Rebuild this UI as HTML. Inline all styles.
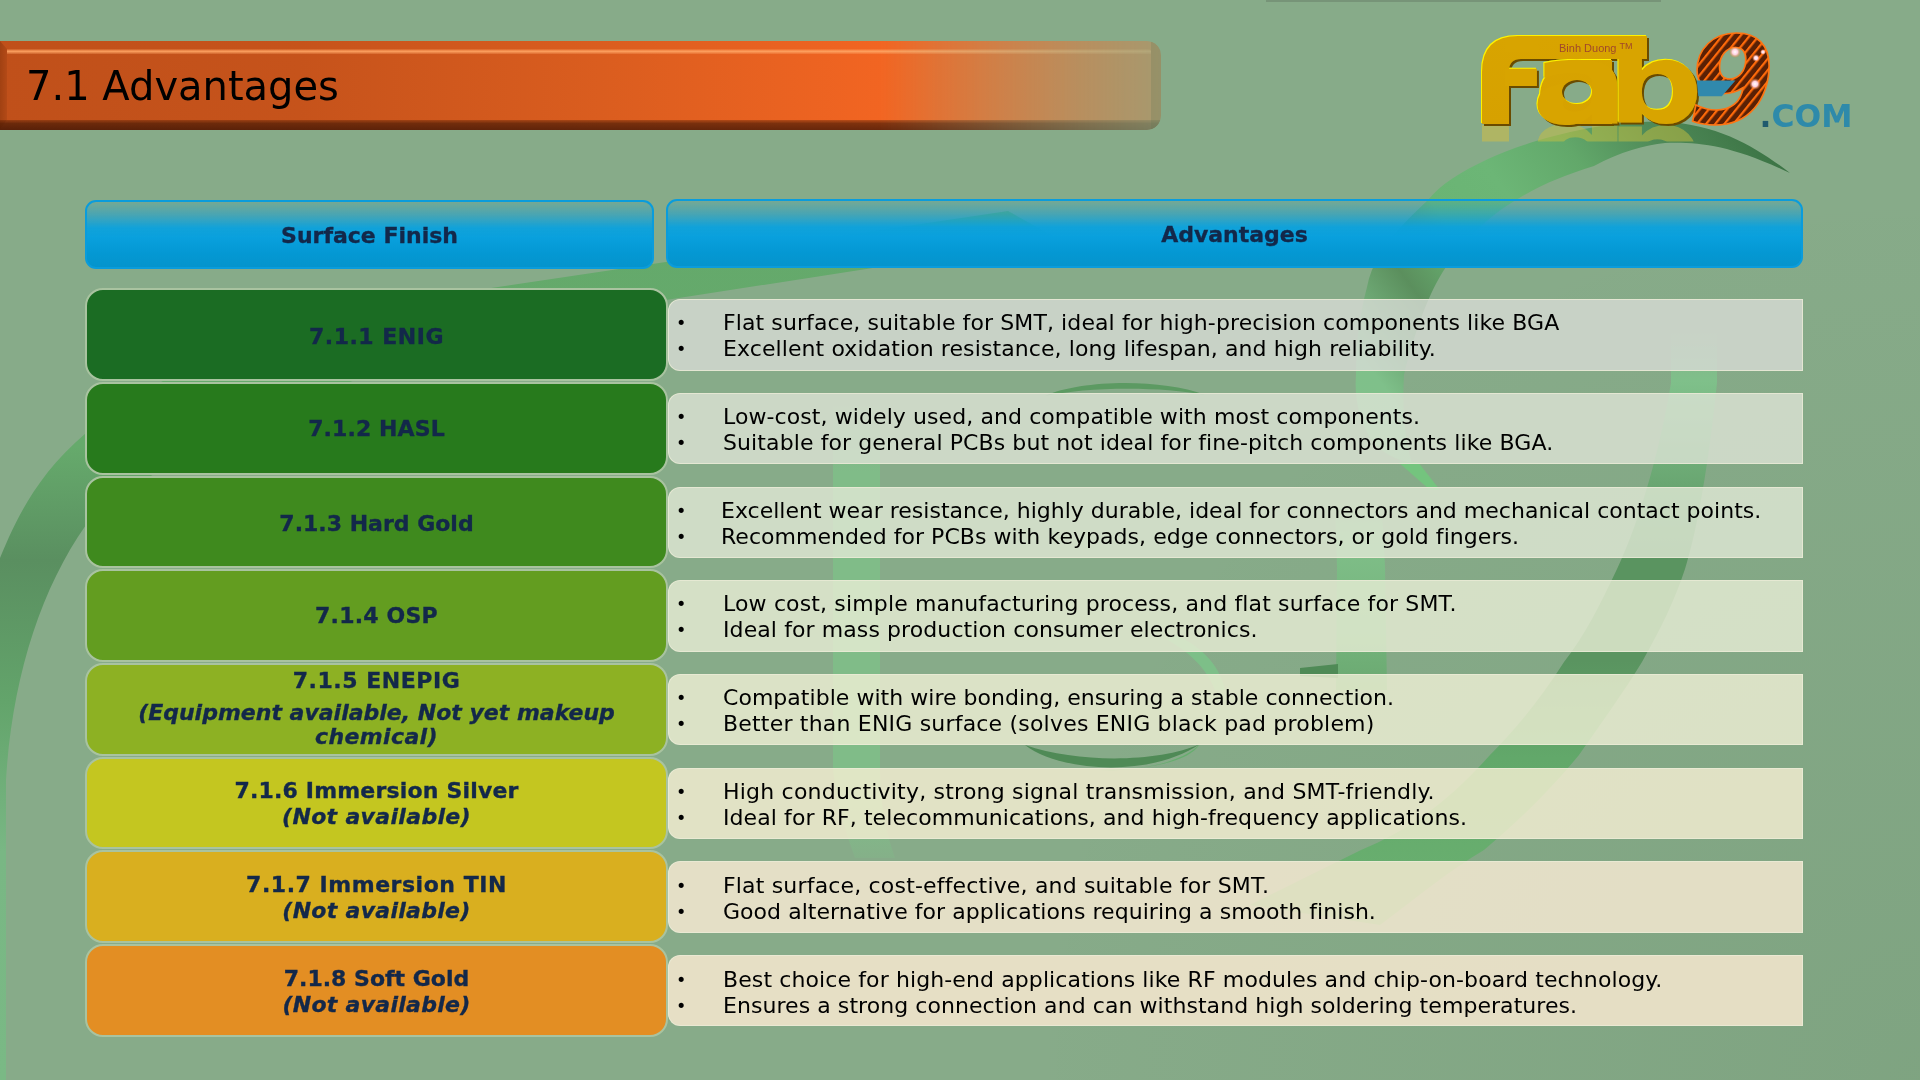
<!DOCTYPE html>
<html><head><meta charset="utf-8"><title>7.1 Advantages</title>
<style>
*{margin:0;padding:0;box-sizing:border-box}
html,body{width:1920px;height:1080px;overflow:hidden}
body{position:relative;-webkit-font-smoothing:antialiased;background:#87ab89;font-family:"DejaVu Sans","Liberation Sans",sans-serif;color:#000}
svg{position:absolute;left:0;top:0;overflow:visible}
.rt,.lt,.bl,.title,.hd{will-change:transform}
.tb{position:absolute;left:0;top:41px;width:1161px;height:88.5px;border-radius:0 14px 14px 0;overflow:hidden;
 background:linear-gradient(90deg,#c0501a 0px,#c6531b 300px,#da5d1f 600px,#f26522 885px,#ea7030 1000px,#e07a40 1161px);
 -webkit-mask-image:linear-gradient(90deg,#000 0,#000 880px,rgba(0,0,0,0.72) 1000px,rgba(0,0,0,0.52) 1080px,rgba(0,0,0,0.36) 1161px);
 mask-image:linear-gradient(90deg,#000 0,#000 880px,rgba(0,0,0,0.72) 1000px,rgba(0,0,0,0.52) 1080px,rgba(0,0,0,0.36) 1161px)}
.tb .hl{position:absolute;left:7px;right:10px;top:8px;height:5px;border-radius:0 3px 0 0;background:linear-gradient(180deg,rgba(255,160,90,0.1) 0,rgba(255,165,100,0.95) 45%,rgba(255,170,110,0.2) 100%)}
.tb .bb{position:absolute;left:0;right:0;bottom:0;height:10px;background:linear-gradient(180deg,rgba(60,20,0,0.3) 0,rgba(50,15,0,0.6) 35%,rgba(40,10,0,0.68) 100%)}
.tb .lb{position:absolute;left:0;top:0;bottom:0;width:7px;background:linear-gradient(90deg,rgba(90,30,0,0.3),rgba(90,30,0,0.12));clip-path:polygon(0 0,100% 8px,100% calc(100% - 10px),0 100%)}
.tb .rb{position:absolute;right:0;top:0;bottom:0;width:10px;background:rgba(40,40,0,0.25);border-radius:0 14px 14px 0}
.title{position:absolute;left:26px;top:62px;font-size:40px;line-height:48px;color:#000;white-space:nowrap}
.hd{position:absolute;height:69px;border:2px solid #0a9cdc;border-radius:11px;
 background:linear-gradient(180deg,rgba(40,160,200,0.18) 0%,rgba(20,160,215,0.55) 20%,rgba(10,161,222,0.95) 40%,#09a0dd 55%,#0498d3 80%,#0594cc 100%);
 font-weight:bold;font-size:22px;color:#13284a;text-align:center;line-height:68px}
.lc{position:absolute;left:85px;width:583px;height:92.6px;border:2px solid #a9c3a0;border-radius:18px}
.rc{position:absolute;left:668.3px;width:1134.7px;height:71.5px;border:1.5px solid rgba(235,235,215,0.8);border-radius:12px 0 0 12px}
.lt{position:absolute;left:87px;width:579px;text-align:center;font-weight:bold;font-size:22px;line-height:26px;color:#13284a;white-space:nowrap}
.lt i,.it{font-style:italic}
.lt,.hd{-webkit-text-stroke:0.35px #13284a}
.rt{position:absolute;font-size:22px;line-height:26px;color:#000;white-space:nowrap;letter-spacing:0px}
.bl{position:absolute;left:676px;font-size:17.6px;line-height:26px;color:#000}
</style></head><body>
<svg width="1920" height="1080" viewBox="0 0 1920 1080">
<defs>
<linearGradient id="gB" x1="0" y1="200" x2="0" y2="1080" gradientUnits="userSpaceOnUse">
<stop offset="0" stop-color="#64a96b"/><stop offset="0.28" stop-color="#66aa6c"/><stop offset="0.41" stop-color="#5a8f60"/><stop offset="0.57" stop-color="#63a46b"/><stop offset="0.74" stop-color="#79b784"/><stop offset="1" stop-color="#7ab985"/>
</linearGradient>
<linearGradient id="gA1" x1="1790" y1="150" x2="1380" y2="450" gradientUnits="userSpaceOnUse">
<stop offset="0.03" stop-color="#3c7445"/><stop offset="0.2" stop-color="#4f8a58"/><stop offset="0.35" stop-color="#62a86a"/><stop offset="0.5" stop-color="#6cb676"/><stop offset="0.63" stop-color="#6ab474"/><stop offset="0.76" stop-color="#5b8f5d"/><stop offset="0.92" stop-color="#7fc08a"/><stop offset="1" stop-color="#80c08a"/>
</linearGradient>
<linearGradient id="gA1c" x1="0" y1="500" x2="0" y2="690" gradientUnits="userSpaceOnUse">
<stop offset="0" stop-color="#87ab89"/><stop offset="0.2" stop-color="#80bf89"/><stop offset="0.7" stop-color="#74b47c"/><stop offset="1" stop-color="#6aa870"/>
</linearGradient>
<linearGradient id="gA2" x1="0" y1="330" x2="0" y2="900" gradientUnits="userSpaceOnUse">
<stop offset="0" stop-color="#87ab89"/><stop offset="0.09" stop-color="#7fc08a"/><stop offset="0.4" stop-color="#5a9460"/><stop offset="0.58" stop-color="#5a9460"/><stop offset="0.75" stop-color="#62a86a"/><stop offset="1" stop-color="#6ab070"/>
</linearGradient>
<linearGradient id="gC" x1="0" y1="400" x2="0" y2="880" gradientUnits="userSpaceOnUse">
<stop offset="0" stop-color="#87ab89"/><stop offset="0.15" stop-color="#80bc88"/><stop offset="0.85" stop-color="#80bc88"/><stop offset="1" stop-color="#87ab89"/>
</linearGradient>
<radialGradient id="vig" cx="1920" cy="1080" r="900" gradientUnits="userSpaceOnUse"><stop offset="0" stop-color="#2a5a30" stop-opacity="0.09"/><stop offset="1" stop-color="#2a5a30" stop-opacity="0"/></radialGradient>
</defs>
<rect width="1920" height="1080" fill="#87ab89"/>
<rect width="1920" height="1080" fill="url(#vig)"/>
<path d="M-20,600 L0,558 C10,535 30,480 86,433 C186,346 348,309 498,287 L1008,211 L1060,240 L876,267.5 L666,300 C450,335 200,420 86,525 C40,590 12,680 6,780 L6,1080 L-20,1080 Z" fill="url(#gB)"/>
<path d="M1790,173 C1760,150 1720,124 1665,122 C1600,120 1530,140 1488,159 C1460,172 1440,185 1428,200 C1390,235 1372,260 1367,287 C1358,320 1356,350 1356,375 C1354,400 1360,425 1375,445 C1390,458 1405,462 1412,463 C1405,440 1402,410 1404,375 C1415,330 1430,290 1446,267 C1470,235 1490,215 1516,200 C1540,185 1565,175 1594,166 C1620,152 1645,145 1665,143 C1700,142 1730,145 1790,173 Z" fill="url(#gA1)"/>
<path d="M1335,500 L1337,567 L1336,690 L1387,690 L1385,567 C1384,540 1383,520 1380,500 Z" fill="url(#gA1c)"/>
<path d="M1300,668 L1338,664 L1338,678 L1300,676 Z" fill="#4f8a56"/>
<path d="M1671,330 L1671,383 C1660,450 1640,520 1617,569 C1600,605 1585,635 1564,662 C1540,700 1515,730 1490,755 C1450,800 1410,830 1361,850 L1250,905 L1380,925 C1420,895 1450,870 1484,850 C1520,820 1550,790 1579,755 C1600,725 1625,690 1642,662 C1660,630 1675,600 1685,569 C1700,520 1710,450 1717,383 L1717,330 Z" fill="url(#gA2)"/>
<path d="M833,400 L833,770 C836,800 845,830 855,858 L895,858 C885,830 880,800 880,770 L880,400 Z" fill="url(#gC)"/>
<path d="M1045,396 C1080,380 1160,378 1205,395 C1160,386 1085,387 1045,396 Z" fill="#5c9a62"/>
<path d="M1025,745 C1060,772 1150,778 1200,744 L1200,744 C1160,762 1080,764 1025,745 Z" fill="#4f8a56"/>
<path d="M1100,771 C1150,770 1185,760 1200,744 C1190,760 1160,768 1100,771 Z" fill="#66ae6e"/>
<path d="M1168,640 C1185,650 1205,665 1215,690 L1225,690 C1220,665 1200,645 1175,635 Z" fill="#7dbf88"/>
<path d="M1398,462 L1418,462 L1440,490 L1430,490 Z" fill="#74c47e"/>
</svg>

<div class="tb"><div class="hl"></div><div class="bb"></div><div class="lb"></div><div class="rb"></div></div>
<div class="title">7.1 Advantages</div>
<div style="position:absolute;left:1266px;top:0;width:395px;height:2px;background:rgba(70,80,70,0.25)"></div>
<svg width="1920" height="1080" viewBox="0 0 1920 1080" style="pointer-events:none">
<defs>
<pattern id="circ" width="7" height="7" patternUnits="userSpaceOnUse" patternTransform="rotate(-52)">
<rect width="7" height="7" fill="#ff6a0a"/><rect y="2.2" width="7" height="4.8" fill="#5a2005"/>
</pattern>
<radialGradient id="glow"><stop offset="0" stop-color="#fff"/><stop offset="0.45" stop-color="#ffd0e0"/><stop offset="1" stop-color="#ff8020" stop-opacity="0"/></radialGradient>
<clipPath id="fclip"><rect x="1505" y="40" width="200" height="100"/></clipPath>
<clipPath id="refl"><rect x="1470" y="124.5" width="320" height="17"/></clipPath>
<linearGradient id="gold" x1="0" y1="36" x2="0" y2="124" gradientUnits="userSpaceOnUse"><stop offset="0" stop-color="#d8a400"/><stop offset="1" stop-color="#d6a100"/></linearGradient>
<mask id="ahole" maskUnits="userSpaceOnUse" x="1460" y="20" width="260" height="120"><rect x="1460" y="20" width="260" height="120" fill="#fff"/><ellipse cx="1577" cy="92" rx="15" ry="12" fill="#000"/></mask>
<filter id="bev" x="-5%" y="-10%" width="110%" height="120%">
<feOffset in="SourceAlpha" dx="1.6" dy="1.6" result="o2"/><feFlood flood-color="#6a4c00"/><feComposite in2="o2" operator="in" result="sh"/>
<feOffset in="SourceAlpha" dx="-1.1" dy="-1.1" result="o1"/><feFlood flood-color="#fff200"/><feComposite in2="o1" operator="in" result="hi"/>
<feMerge><feMergeNode in="sh"/><feMergeNode in="hi"/><feMergeNode in="SourceGraphic"/></feMerge>
</filter>
</defs>
<g clip-path="url(#refl)" opacity="0.5">
<g transform="translate(0,249) scale(1,-1)">
<rect x="1482" y="90" width="27" height="34" fill="#d8c040"/>
<text transform="translate(1531.2,122.9) scale(1.269,1)" font-family="DejaVu Sans, sans-serif" font-weight="bold" font-size="114" fill="#c8c040">a</text>
<text transform="translate(1607.3,121.7) scale(1.187,1)" font-family="DejaVu Sans, sans-serif" font-weight="bold" font-size="112.8" fill="#c8c040">b</text>
</g>
</g>
<g filter="url(#bev)"><g mask="url(#ahole)">
<path d="M1482,124 L1482,72 Q1482,36 1518,36 L1647,36 L1647,59 L1521,59 Q1509,59 1509,71 L1509,124 Z" fill="url(#gold)"/>
<g clip-path="url(#fclip)"><text transform="translate(1474,124) scale(0.9,1)" font-family="DejaVu Sans, sans-serif" font-weight="bold" font-size="120.5" fill="url(#gold)">F</text></g>
<path d="M1540,96 C1540,72 1560,60 1585,60 L1612,60 L1612,124 L1580,124 C1555,124 1540,112 1540,96 Z" fill="url(#gold)"/>
<text transform="translate(1531.2,122.9) scale(1.269,1)" font-family="DejaVu Sans, sans-serif" font-weight="bold" font-size="114" fill="url(#gold)">a</text>
<text transform="translate(1607.3,121.7) scale(1.187,1)" font-family="DejaVu Sans, sans-serif" font-weight="bold" font-size="112.8" fill="url(#gold)">b</text>
</g></g>
<text x="1559" y="51.5" font-family="Liberation Sans, sans-serif" font-size="11" fill="#a0482a">Binh Duong <tspan dy="-3" font-size="9">TM</tspan></text>
<text transform="translate(1687.5,122.6) scale(1.03,1)" font-family="DejaVu Sans, sans-serif" font-weight="bold" font-style="italic" font-size="121.6" fill="url(#circ)" stroke="#ff7412" stroke-width="1.6">9</text>
<polygon points="1696.8,80.5 1735.5,80.5 1721.8,96.3 1698.3,96.3" fill="#3089ad"/>
<circle cx="1735" cy="52" r="6" fill="url(#glow)"/>
<circle cx="1756" cy="58" r="4" fill="url(#glow)"/>
<circle cx="1763" cy="52" r="3" fill="url(#glow)"/>
<circle cx="1755" cy="84" r="6" fill="url(#glow)"/>
<text x="1759.5" y="126.8" font-family="DejaVu Sans, sans-serif" font-weight="bold" font-size="31.4" fill="#2e8aaa"><tspan fill="#1f5a6e">.</tspan>COM</text>
</svg>

<div class="hd" style="left:85px;top:200px;width:569px">Surface Finish</div>
<div class="hd" style="left:666px;top:199px;width:1137px">Advantages</div>
<div class="lc" style="top:288.30px;background:#1b6c23"></div><div class="rc" style="top:299.30px;background:rgba(216,220,214,0.80)"></div><div class="lt" style="top:323.90px;letter-spacing:0.5px">7.1.1 ENIG</div><div class="rt" style="top:310.00px;left:722.6px"><span style="letter-spacing:0.097px">Flat surface, suitable for SMT, ideal for high-precision components like BGA</span><br><span style="letter-spacing:0.093px">Excellent oxidation resistance, long lifespan, and high reliability.</span></div><div class="bl" style="top:310.00px">&#8226;<br>&#8226;</div><div class="lc" style="top:381.97px;background:#277a1c"></div><div class="rc" style="top:392.97px;background:rgba(221,228,214,0.80)"></div><div class="lt" style="top:416.10px;letter-spacing:0.1px">7.1.2 HASL</div><div class="rt" style="top:403.80px;left:722.6px"><span style="letter-spacing:0.083px">Low-cost, widely used, and compatible with most components.</span><br><span style="letter-spacing:0.100px">Suitable for general PCBs but not ideal for fine-pitch components like BGA.</span></div><div class="bl" style="top:403.80px">&#8226;<br>&#8226;</div><div class="lc" style="top:475.64px;background:#3f8a1e"></div><div class="rc" style="top:486.64px;background:rgba(225,232,214,0.80)"></div><div class="lt" style="top:511.00px;letter-spacing:0.0px">7.1.3 Hard Gold</div><div class="rt" style="top:498.40px;left:720.8px"><span style="letter-spacing:0.013px">Excellent wear resistance, highly durable, ideal for connectors and mechanical contact points.</span><br><span style="letter-spacing:0.043px">Recommended for PCBs with keypads, edge connectors, or gold fingers.</span></div><div class="bl" style="top:498.40px">&#8226;<br>&#8226;</div><div class="lc" style="top:569.31px;background:#639d20"></div><div class="rc" style="top:580.31px;background:rgba(232,237,214,0.80)"></div><div class="lt" style="top:603.00px;letter-spacing:0.2px">7.1.4 OSP</div><div class="rt" style="top:591.40px;left:722.6px"><span style="letter-spacing:0.141px">Low cost, simple manufacturing process, and flat surface for SMT.</span><br><span style="letter-spacing:0.093px">Ideal for mass production consumer electronics.</span></div><div class="bl" style="top:591.40px">&#8226;<br>&#8226;</div><div class="lc" style="top:662.98px;background:#8db123"></div><div class="rc" style="top:673.98px;background:rgba(240,240,214,0.80)"></div><div class="lt" style="top:667.90px;letter-spacing:0.55px">7.1.5 ENEPIG</div><div class="lt it" style="top:700.00px;letter-spacing:0.0px">(Equipment available, Not yet makeup</div><div class="lt it" style="top:724.00px;letter-spacing:0.37px">chemical)</div><div class="rt" style="top:685.20px;left:722.6px"><span style="letter-spacing:0.034px">Compatible with wire bonding, ensuring a stable connection.</span><br><span style="letter-spacing:0.196px">Better than ENIG surface (solves ENIG black pad problem)</span></div><div class="bl" style="top:685.20px">&#8226;<br>&#8226;</div><div class="lc" style="top:756.65px;background:#c4c620"></div><div class="rc" style="top:767.65px;background:rgba(248,240,213,0.80)"></div><div class="lt" style="top:778.00px;letter-spacing:0.18px">7.1.6 Immersion Silver</div><div class="lt it" style="top:803.80px;letter-spacing:0.33px">(Not available)</div><div class="rt" style="top:779.00px;left:722.6px"><span style="letter-spacing:0.213px">High conductivity, strong signal transmission, and SMT-friendly.</span><br><span style="letter-spacing:0.083px">Ideal for RF, telecommunications, and high-frequency applications.</span></div><div class="bl" style="top:779.00px">&#8226;<br>&#8226;</div><div class="lc" style="top:850.32px;background:#d9af1f"></div><div class="rc" style="top:861.32px;background:rgba(251,236,214,0.80)"></div><div class="lt" style="top:872.00px;letter-spacing:0.53px">7.1.7 Immersion TIN</div><div class="lt it" style="top:898.00px;letter-spacing:0.29px">(Not available)</div><div class="rt" style="top:872.80px;left:722.6px"><span style="letter-spacing:0.174px">Flat surface, cost-effective, and suitable for SMT.</span><br><span style="letter-spacing:0.041px">Good alternative for applications requiring a smooth finish.</span></div><div class="bl" style="top:872.80px">&#8226;<br>&#8226;</div><div class="lc" style="top:943.99px;background:#e38e23"></div><div class="rc" style="top:954.99px;background:rgba(254,236,213,0.80)"></div><div class="lt" style="top:965.80px;letter-spacing:0.0px">7.1.8 Soft Gold</div><div class="lt it" style="top:991.70px;letter-spacing:0.27px">(Not available)</div><div class="rt" style="top:966.60px;left:722.6px"><span style="letter-spacing:0.106px">Best choice for high-end applications like RF modules and chip-on-board technology.</span><br><span style="letter-spacing:0.058px">Ensures a strong connection and can withstand high soldering temperatures.</span></div><div class="bl" style="top:966.60px">&#8226;<br>&#8226;</div>
</body></html>
